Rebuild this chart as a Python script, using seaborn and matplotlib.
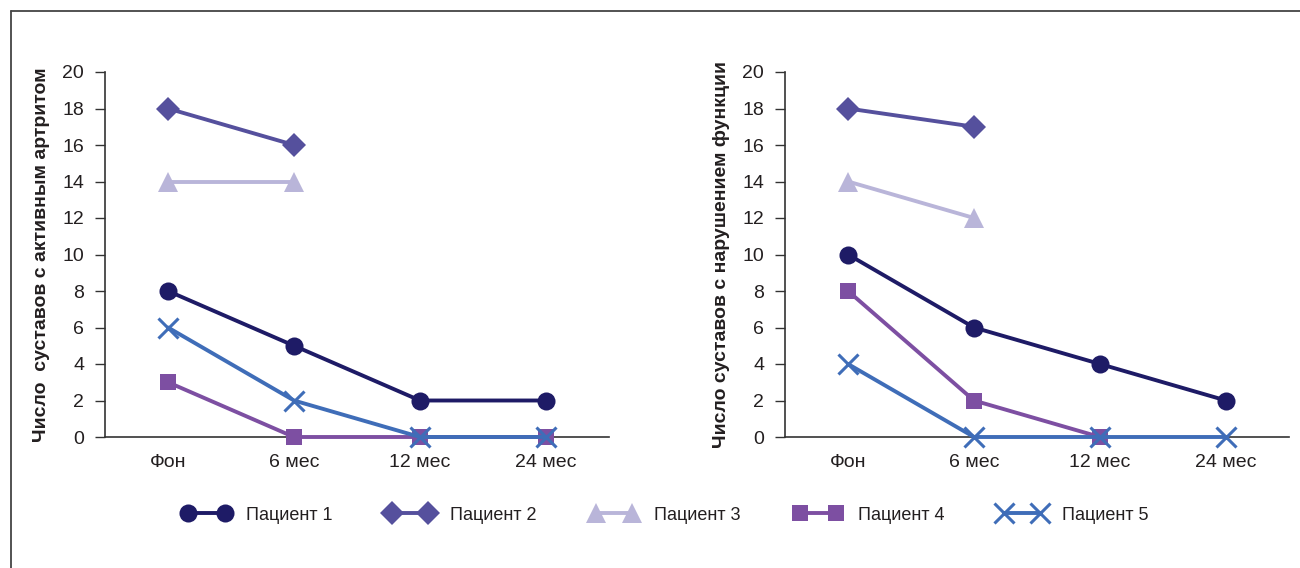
import numpy as np
import pandas as pd
import matplotlib
matplotlib.use("Agg")
import matplotlib.pyplot as plt
from matplotlib.lines import Line2D
import seaborn as sns

categories = ["Фон", "6 мес", "12 мес", "24 мес"]
patients = ["Пациент 1", "Пациент 2", "Пациент 3", "Пациент 4", "Пациент 5"]

# Left panel: joints with active arthritis
left_p1 = [8, 5, 2, 2]
left_p2 = [18, 16, np.nan, np.nan]
left_p3 = [14, 14, np.nan, np.nan]
left_p4 = [3, 0, 0, 0]
left_p5 = [6, 2, 0, 0]

# Right panel: joints with impaired function
right_p1 = [10, 6, 4, 2]
right_p2 = [18, 17, np.nan, np.nan]
right_p3 = [14, 12, np.nan, np.nan]
right_p4 = [8, 2, 0, np.nan]
right_p5 = [4, 0, 0, 0]

left_label = "Число  суставов с активным артритом"
right_label = "Число суставов с нарушением функции"
yticks = [0, 2, 4, 6, 8, 10, 12, 14, 16, 18, 20]

colors = ["#1e1b66", "#55509d", "#b9b5d9", "#7d4fa2", "#3f6db8"]
markers = ["o", "D", "^", "s", "x"]
msizes = [13, 12, 14, 12, 14]

sns.set_theme(style="white")
plt.rcParams["font.family"] = ["Liberation Sans", "DejaVu Sans"]

def long_df(series):
    rows = []
    for p, vals in zip(patients, series):
        for i, (c, v) in enumerate(zip(categories, vals)):
            rows.append({"patient": p, "cat": c, "pos": i, "val": v})
    return pd.DataFrame(rows)

df_left = long_df([left_p1, left_p2, left_p3, left_p4, left_p5])
df_right = long_df([right_p1, right_p2, right_p3, right_p4, right_p5])

fig = plt.figure(figsize=(13, 5.68), dpi=100)
ax1 = fig.add_axes([105 / 1300, 1 - 437 / 568, 504 / 1300, 365 / 568])
ax2 = fig.add_axes([785 / 1300, 1 - 437 / 568, 504 / 1300, 365 / 568])

textc = "#231f20"
lw = 2.8
for ax, df, lab in [(ax1, df_left, left_label), (ax2, df_right, right_label)]:
    for k, p in enumerate(patients):
        sub = df[df["patient"] == p].dropna()
        sns.lineplot(data=sub, x="pos", y="val", ax=ax, color=colors[k],
                     marker=markers[k], markersize=msizes[k], linewidth=lw,
                     markeredgewidth=2.2 if markers[k] == "x" else 0,
                     markeredgecolor=colors[k], clip_on=False, zorder=3 + k,
                     legend=False)
    ax.set_xlim(-0.5, 3.5)
    ax.set_ylim(0, 20)
    ax.set_yticks(yticks)
    ax.set_yticklabels([str(t) for t in yticks], fontsize=14, color=textc)
    ax.set_xticks(range(len(categories)))
    ax.set_xticklabels(categories, fontsize=14, color=textc)
    ax.set_xticks([-0.5, 0.5, 1.5, 2.5, 3.5], minor=True)
    ax.tick_params(axis="x", which="major", length=0, pad=12)
    ax.tick_params(axis="x", which="minor", length=5, width=1, color="#333333", direction="out")
    ax.tick_params(axis="y", length=7, width=1, color="#333333", direction="out", pad=8, left=True)
    ax.set_xlabel("")
    ax.set_ylabel(lab, fontsize=14, fontweight="bold", color=textc, labelpad=9)
    for s in ["top", "right"]:
        ax.spines[s].set_visible(False)
    for s in ["left", "bottom"]:
        ax.spines[s].set_color("#333333")
        ax.spines[s].set_linewidth(1.2)
    ax.grid(False)

handles = [Line2D([0], [0], color=colors[k], marker=markers[k], markersize=msizes[k],
                  linewidth=lw, markeredgewidth=2.2 if markers[k] == "x" else 0,
                  markeredgecolor=colors[k]) for k in range(5)]
fig.legend(handles, patients, loc="center", bbox_to_anchor=(0.512, 0.093), ncol=5,
           frameon=False, fontsize=13, numpoints=2, handlelength=2.6,
           handletextpad=0.9, columnspacing=3.0, labelcolor=textc)

fig.add_artist(Line2D([11 / 1300, 1], [1 - 11 / 568, 1 - 11 / 568], transform=fig.transFigure,
                      color="#444444", linewidth=1.3))
fig.add_artist(Line2D([11 / 1300, 11 / 1300], [0, 1 - 11 / 568], transform=fig.transFigure,
                      color="#444444", linewidth=1.3))

fig.savefig("out.png", dpi=100, facecolor="white")
